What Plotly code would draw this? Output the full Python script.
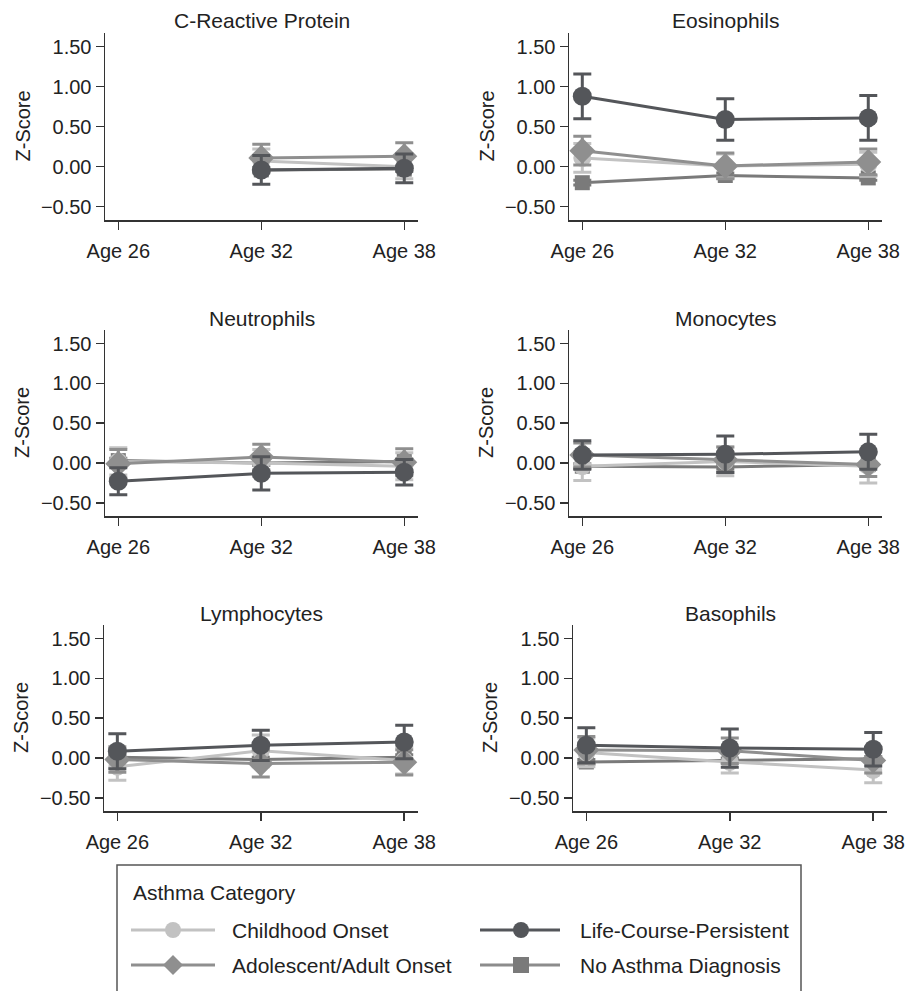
import plotly.graph_objects as go

W, H = 908, 991

ages = ["Age 26", "Age 32", "Age 38"]
panels = ["C-Reactive Protein", "Eosinophils", "Neutrophils",
          "Monocytes", "Lymphocytes", "Basophils"]
y_tickvals = [-0.5, 0.0, 0.5, 1.0, 1.5]

# ---- data (mean z-score and error half-width), per panel, ages 26/32/38 ----
childhood_mean = {
    "C-Reactive Protein": [None, 0.07, 0.00],
    "Eosinophils": [0.11, 0.01, 0.03],
    "Neutrophils": [0.02, 0.00, -0.04],
    "Monocytes": [-0.04, 0.02, -0.04],
    "Lymphocytes": [-0.11, 0.09, -0.03],
    "Basophils": [0.07, -0.05, -0.15],
}
childhood_err = {
    "C-Reactive Protein": [None, 0.15, 0.15],
    "Eosinophils": [0.18, 0.15, 0.15],
    "Neutrophils": [0.17, 0.17, 0.17],
    "Monocytes": [0.18, 0.18, 0.21],
    "Lymphocytes": [0.17, 0.20, 0.17],
    "Basophils": [0.18, 0.14, 0.16],
}
adolescent_mean = {
    "C-Reactive Protein": [None, 0.11, 0.13],
    "Eosinophils": [0.20, 0.01, 0.06],
    "Neutrophils": [-0.01, 0.075, 0.01],
    "Monocytes": [0.10, 0.04, -0.02],
    "Lymphocytes": [-0.02, -0.07, -0.055],
    "Basophils": [0.10, 0.09, -0.03],
}
adolescent_err = {
    "C-Reactive Protein": [None, 0.17, 0.17],
    "Eosinophils": [0.18, 0.16, 0.16],
    "Neutrophils": [0.18, 0.16, 0.17],
    "Monocytes": [0.15, 0.16, 0.15],
    "Lymphocytes": [0.16, 0.17, 0.16],
    "Basophils": [0.17, 0.16, 0.16],
}
lcp_mean = {
    "C-Reactive Protein": [None, -0.04, -0.02],
    "Eosinophils": [0.88, 0.59, 0.61],
    "Neutrophils": [-0.23, -0.13, -0.115],
    "Monocytes": [0.10, 0.11, 0.14],
    "Lymphocytes": [0.085, 0.16, 0.20],
    "Basophils": [0.16, 0.125, 0.11],
}
lcp_err = {
    "C-Reactive Protein": [None, 0.18, 0.18],
    "Eosinophils": [0.28, 0.26, 0.28],
    "Neutrophils": [0.17, 0.21, 0.16],
    "Monocytes": [0.18, 0.23, 0.22],
    "Lymphocytes": [0.22, 0.19, 0.21],
    "Basophils": [0.22, 0.24, 0.21],
}
none_mean = {
    "C-Reactive Protein": [None, -0.04, -0.03],
    "Eosinophils": [-0.20, -0.11, -0.14],
    "Neutrophils": [0.03, 0.00, 0.02],
    "Monocytes": [-0.04, -0.05, -0.02],
    "Lymphocytes": [0.01, -0.02, 0.01],
    "Basophils": [-0.05, -0.03, -0.01],
}
none_err = {
    "C-Reactive Protein": [None, 0.03, 0.03],
    "Eosinophils": [0.03, 0.03, 0.03],
    "Neutrophils": [0.03, 0.03, 0.03],
    "Monocytes": [0.03, 0.03, 0.03],
    "Lymphocytes": [0.03, 0.03, 0.03],
    "Basophils": [0.03, 0.03, 0.03],
}

# ---- styles ----
C_CHILD = "#c2c2c2"
C_ADOL = "#8f8f8f"
C_LCP = "#54565a"
C_NONE = "#7a7a7a"
AXC = "#333333"
TXT = "#222222"
FONT = "Liberation Sans, Arial, Helvetica, sans-serif"
FS = 20
FS_BIG = 21

series = [  # drawing order bottom -> top
    ("No Asthma Diagnosis", none_mean, none_err, C_NONE, C_NONE, "square", 15),
    ("Childhood Onset", childhood_mean, childhood_err, C_CHILD, C_CHILD, "circle", 18),
    ("Adolescent/Adult Onset", adolescent_mean, adolescent_err, C_ADOL, C_ADOL, "diamond", 20),
    ("Life-Course-Persistent", lcp_mean, lcp_err, C_LCP, C_LCP, "circle", 19),
]

def px(x):
    return x / W

def py(y):
    return 1 - y / H

# panel pixel boxes: (left, right, top, bottom)
boxes = [
    (105, 418, 33, 220), (569, 882, 33, 220),
    (105, 418, 330, 516), (569, 882, 330, 516),
    (104, 418, 625, 811), (573, 887, 625, 811),
]

fig = go.Figure()
annotations = []
layout = {}

for i, (name, box) in enumerate(zip(panels, boxes)):
    l, r, t, b = box
    ax = "" if i == 0 else str(i + 1)
    xa, ya = "x" + ax, "y" + ax
    for sname, means, errs, lc, mc, sym, ms in series:
        fig.add_trace(go.Scatter(
            x=ages, y=means[name], mode="lines+markers", name=sname,
            xaxis=xa, yaxis=ya, showlegend=False, connectgaps=False,
            line=dict(color=lc, width=3),
            marker=dict(color=mc, symbol=sym, size=ms, line=dict(width=0)),
            error_y=dict(type="data", array=errs[name], visible=True,
                         color=lc, thickness=3, width=9),
        ))
    layout["xaxis" + ax] = dict(
        domain=[px(l), px(r)], anchor=ya, type="category",
        categoryorder="array", categoryarray=ages,
        range=[-0.093, 2.096], showline=True, linecolor=AXC, linewidth=1.5,
        ticks="outside", ticklen=8, tickwidth=1.5, tickcolor=AXC,
        showgrid=False, zeroline=False, automargin=False,
        tickfont=dict(size=FS, color=TXT, family=FONT),
        ticklabelstandoff=4,
    )
    layout["yaxis" + ax] = dict(
        domain=[py(b), py(t)], anchor=xa, range=[-0.666, 1.671],
        tickvals=y_tickvals, tickformat=".2f",
        showline=True, linecolor=AXC, linewidth=1.5,
        ticks="outside", ticklen=8, tickwidth=1.5, tickcolor=AXC,
        showgrid=False, zeroline=False, automargin=False,
        tickfont=dict(size=FS, color=TXT, family=FONT),
    )
    annotations.append(dict(
        text=name, xref="paper", yref="paper", x=px((l + r) / 2), y=py(t - 12),
        xanchor="center", yanchor="middle", showarrow=False,
        font=dict(size=FS_BIG, color=TXT, family=FONT)))
    annotations.append(dict(
        text="Z-Score", xref="paper", yref="paper", x=px(l - 83), y=py((t + b) / 2),
        xanchor="center", yanchor="middle", showarrow=False, textangle=-90,
        font=dict(size=FS, color=TXT, family=FONT)))

# ---- legend (drawn as guide elements) ----
shapes = []
shapes.append(dict(type="rect", xref="paper", yref="paper",
                   x0=px(117), x1=px(801), y0=py(1000), y1=py(865),
                   line=dict(color="#555555", width=1.5), fillcolor="rgba(0,0,0,0)"))
annotations.append(dict(text="Asthma Category", xref="paper", yref="paper",
                        x=px(131), y=py(892), xanchor="left", yanchor="middle",
                        showarrow=False, font=dict(size=FS_BIG, color=TXT, family=FONT)))

legend_items = [
    ("Childhood Onset", C_CHILD, C_CHILD, "circle", 131, 215, 173, 230, 930),
    ("Adolescent/Adult Onset", C_ADOL, C_ADOL, "diamond", 131, 215, 173, 230, 965),
    ("Life-Course-Persistent", C_LCP, C_LCP, "circle", 480, 560, 521, 578, 930),
    ("No Asthma Diagnosis", "#8c8c8c", C_NONE, "square", 480, 560, 521, 578, 965),
]
for label, lc, mc, sym, x0, x1, xm, xt, yy in legend_items:
    shapes.append(dict(type="line", xref="paper", yref="paper",
                       x0=px(x0), x1=px(x1), y0=py(yy), y1=py(yy),
                       line=dict(color=lc, width=3)))
    if sym == "circle":
        r_ = 8
        shapes.append(dict(type="circle", xref="paper", yref="paper",
                           x0=px(xm - r_), x1=px(xm + r_), y0=py(yy + r_), y1=py(yy - r_),
                           fillcolor=mc, line=dict(width=0)))
    elif sym == "square":
        r_ = 8
        shapes.append(dict(type="rect", xref="paper", yref="paper",
                           x0=px(xm - r_), x1=px(xm + r_), y0=py(yy + r_), y1=py(yy - r_),
                           fillcolor=mc, line=dict(width=0)))
    else:
        r_ = 10
        path = (f"M {px(xm - r_)},{py(yy)} L {px(xm)},{py(yy - r_)} "
                f"L {px(xm + r_)},{py(yy)} L {px(xm)},{py(yy + r_)} Z")
        shapes.append(dict(type="path", xref="paper", yref="paper", path=path,
                           fillcolor=mc, line=dict(width=0)))
    annotations.append(dict(text=label, xref="paper", yref="paper",
                            x=px(xt), y=py(yy), xanchor="left", yanchor="middle",
                            showarrow=False, font=dict(size=FS_BIG, color=TXT, family=FONT)))

fig.update_layout(
    width=W, height=H, margin=dict(l=0, r=0, t=0, b=0, pad=0, autoexpand=False),
    paper_bgcolor="white", plot_bgcolor="white",
    font=dict(family=FONT, size=FS, color=TXT),
    showlegend=False, annotations=annotations, shapes=shapes,
    hovermode=False,
    **layout,
)

fig.write_html(
    "out.html",
    config={"displayModeBar": False, "staticPlot": True},
    post_script="document.body.style.margin='0';document.body.style.overflow='hidden';",
)
